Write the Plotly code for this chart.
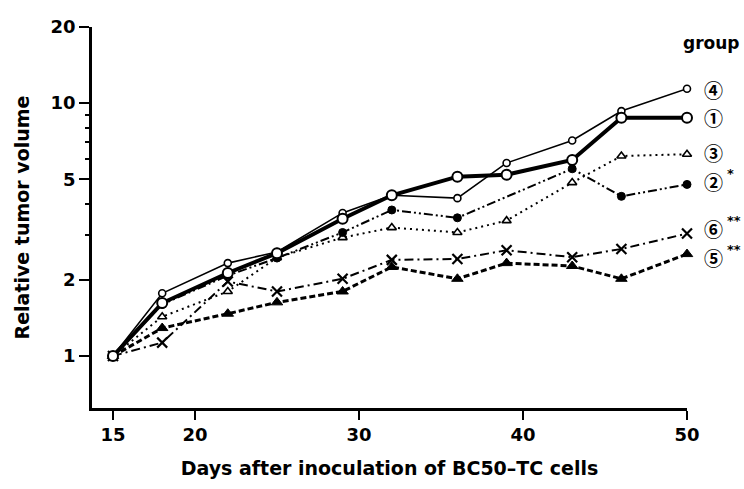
import math
import plotly.graph_objects as go

days = [15, 18, 22, 25, 29, 32, 36, 39, 43, 46, 50]
group1 = [1.0, 1.62, 2.13, 2.55, 3.49, 4.32, 5.12, 5.21, 5.96, 8.75, 8.75]
group2 = [1.0, 1.60, 2.08, 2.44, 3.08, 3.78, 3.52, None, 5.50, 4.28, 4.77]
group3 = [1.0, 1.43, 1.80, 2.45, 2.94, 3.22, 3.08, 3.43, 4.85, 6.18, 6.28]
group4 = [1.0, 1.77, 2.33, 2.58, 3.68, 4.32, 4.21, 5.80, 7.12, 9.30, 11.4]
group5 = [1.0, 1.29, 1.47, 1.63, 1.80, 2.25, 2.02, 2.33, 2.27, 2.02, 2.53]
group6 = [1.0, 1.13, 1.97, 1.80, 2.02, 2.40, 2.42, 2.62, 2.46, 2.65, 3.05]

ytick_vals = [1, 2, 5, 10, 20]
ytick_text = ["1", "2", "5", "10", "20"]
yminor_vals = [3, 4, 6, 7, 8, 9]
xtick_vals = [15, 20, 30, 40, 50]

labels = ["④", "①", "③", "②", "⑥", "⑤"]
stars = ["", "", "", "*", "**", "**"]

FONT = "DejaVu Sans"
CJK = "Noto Sans CJK JP"
BLACK = "#000000"

fig = go.Figure()

def add(y, width, dash, symbol, size, fill, lw):
    fig.add_trace(go.Scatter(
        x=days, y=y, mode="lines+markers", connectgaps=True,
        line=dict(color=BLACK, width=width, dash=dash),
        marker=dict(symbol=symbol, size=size, color=fill,
                    line=dict(color=BLACK, width=lw)),
        cliponaxis=False, showlegend=False))

add(group5, 3, "6px,3px", "triangle-up", 10, BLACK, 1)
add(group6, 2, "9px,4px,2px,4px", "x-thin-open", 10, BLACK, 2.2)
add(group3, 2, "2px,4px", "triangle-up", 8, "white", 1.6)
add(group2, 2, "9px,3px,2px,3px,2px,3px", "circle", 8, BLACK, 1)
add(group4, 1.6, "solid", "circle", 7, "white", 1.6)
add(group1, 4, "solid", "circle", 10, "white", 2)

# plot-area geometry (pixels)
L, R, T, B = 92, 687, 27, 416
ylo, yhi = math.log10(0.623), math.log10(20)

label_y = [91, 119, 155, 185, 233, 262]
for lab, py, st in zip(labels, label_y, stars):
    fig.add_annotation(x=(713 - L) / (R - L), y=(B - py) / (B - T),
                       xref="paper", yref="paper", text=lab, showarrow=False,
                       font=dict(family=CJK, size=19, color=BLACK, weight="bold"),
                       xanchor="center", yanchor="middle")
    if st:
        fig.add_annotation(x=(725 - L) / (R - L), y=(B - py + 8) / (B - T),
                           xref="paper", yref="paper", text=st, showarrow=False,
                           font=dict(family=FONT, size=13, color=BLACK, weight="bold"),
                           xanchor="left", yanchor="middle")

fig.add_annotation(x=(711 - L) / (R - L), y=(B - 43) / (B - T),
                   xref="paper", yref="paper", text="group", showarrow=False,
                   font=dict(family=FONT, size=17, color=BLACK, weight="bold"),
                   xanchor="center", yanchor="middle")

tf = dict(family=FONT, size=18, color=BLACK, weight="bold")

fig.update_layout(
    width=744, height=489,
    margin=dict(l=L, r=744 - R, t=T, b=489 - B),
    paper_bgcolor="white", plot_bgcolor="white",
    font=dict(family=FONT, size=17, color=BLACK),
    xaxis=dict(range=[13.72, 50], tickvals=xtick_vals, ticks="outside",
               ticklen=9, tickwidth=2, tickcolor=BLACK, showline=True,
               linecolor=BLACK, linewidth=2.5, showgrid=False, zeroline=False,
               tickfont=tf,
               title=dict(text="Days after inoculation of BC50–TC cells",
                          font=dict(family=FONT, size=19, color=BLACK, weight="bold"),
                          standoff=18)),
    yaxis=dict(type="log", range=[ylo, yhi], tickvals=ytick_vals,
               ticktext=ytick_text, ticks="outside", ticklen=10, tickwidth=2,
               tickcolor=BLACK, showline=True, linecolor=BLACK, linewidth=2.5,
               showgrid=False, zeroline=False,
               minor=dict(tickvals=yminor_vals, ticks="outside", ticklen=4,
                          tickwidth=1.5, tickcolor=BLACK, showgrid=False),
               tickfont=tf,
               title=dict(text="Relative tumor volume",
                          font=dict(family=FONT, size=19, color=BLACK, weight="bold"),
                          standoff=16)),
)

fig.write_html("out.html")
